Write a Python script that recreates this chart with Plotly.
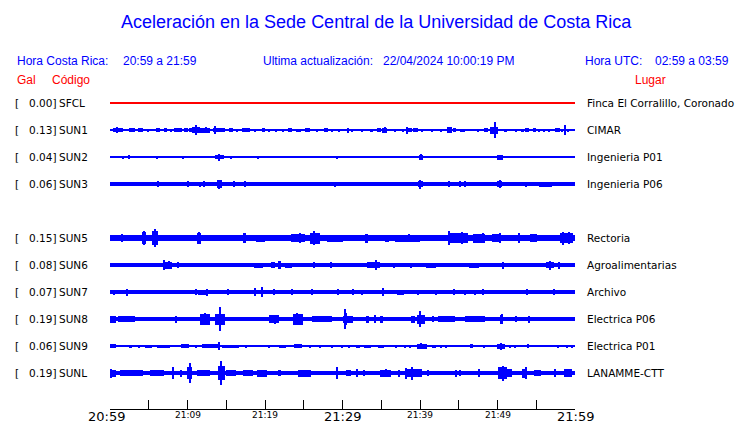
import plotly.graph_objects as go

# ---------------- data ----------------
codes = ["SFCL", "SUN1", "SUN2", "SUN3", "SUN5", "SUN6", "SUN7", "SUN8", "SUN9", "SUNL"]
gal_values = ["0.00", "0.13", "0.04", "0.06", "0.15", "0.08", "0.07", "0.19", "0.06", "0.19"]
places = ["Finca El Corralillo, Coronado", "CIMAR", "Ingenieria P01", "Ingenieria P06", "Rectoria",
          "Agroalimentarias", "Archivo", "Electrica P06", "Electrica P01", "LANAMME-CTT"]
row_slots = [0, 1, 2, 3, 5, 6, 7, 8, 9, 10]   # SUN4 row is empty

# noise-floor half amplitude (relative units) per station
base_amp = [0.5, 1.0, 0.7, 2.2, 2.6, 1.8, 1.7, 2.2, 0.8, 2.0]

# bursts: (start minute, end minute, half amplitude)
ev_sfcl = []
ev_sun1 = [(0.2,0.3,1.2),(0.4,1.7,2),(0.8,1.0,2.7),(2.5,3.2,2),(3.6,4.2,2),(4.9,5.0,1.5),(5.9,6.5,2),(7.0,7.3,2),
           (7.8,8.0,1.5),(8.3,9.3,2),(9.5,10.0,2),(10.2,10.8,2),(10.6,11.6,3),(11.0,11.2,5.2),(11.6,12.9,2.5),
           (12.3,12.4,3),(13.3,14.8,2),(13.5,13.7,3.7),(15.4,15.9,2),(16.4,16.5,1.5),(17.0,18.0,2),(18.6,18.9,1.5),
           (19.6,20.0,2),(20.4,20.6,1.5),(21.4,21.6,1.5),(22.3,22.5,1.5),(23.0,23.5,2),(24.0,24.6,1.5),(25.2,25.8,2),
           (26.6,26.8,1.5),(27.6,28.1,2),(28.6,28.8,1.5),(29.5,29.6,1.5),(30.7,30.9,2.5),(31.2,31.4,1.5),
           (32.5,32.6,1.5),(33.5,33.9,1.5),(34.4,35.0,2),(35.1,35.7,2.5),(35.4,35.5,3),(36.7,36.8,1.5),
           (37.8,37.9,1.5),(38.2,39.0,2),(38.3,38.4,3.5),(39.1,39.7,2),(40.2,40.3,1.5),(41.5,41.6,1.5),
           (42.6,42.7,1.5),(43.5,44.1,3),(44.3,44.6,2),(45.2,45.8,1.5),(47.4,47.5,1.5),(48.3,48.8,2),
           (49.0,50.1,3.5),(49.6,49.8,8),(50.9,51.2,1.5),(52.3,52.4,1.5),(53.0,53.4,1.5),(53.5,54.0,2),
           (54.6,55.0,2),(55.3,55.4,1.5),(55.9,56.0,1.5),(56.6,56.7,1.5),(57.4,58.0,2),(58.3,58.4,1.5),
           (58.6,58.8,5),(59.0,59.1,1.5)]
ev_sun2 = [(1.6,1.8,1.5),(2.4,2.6,2),(6.0,6.2,1.5),(9.4,9.6,1.5),(10.1,10.3,1.2),(11.7,11.9,1.2),(12.8,13.0,1.2),
           (13.5,14.7,2),(14.0,14.2,3.5),(15.6,15.8,1.5),(19.0,19.2,1.5),(29.2,29.4,1.5),(39.9,40.4,2.5),
           (40.0,40.2,3),(40.8,41.0,1.2),(49.9,50.7,2.5)]
ev_sun3 = [(6.1,6.3,2.8),(10.0,10.2,2.7),(11.5,11.7,2.5),(12.0,12.2,3),(13.8,14.4,4),(14.0,14.2,4.5),
           (15.9,16.1,3.2),(17.4,17.6,2.7),(29.0,29.2,2.5),(39.8,40.4,3),(39.9,40.1,4.5),(43.7,43.9,2.8),
           (45.1,45.3,2.8),(45.7,45.9,2.8),(49.9,50.6,3),(50.2,50.4,3.8),(53.6,53.8,2.5),(55.4,57.0,2.5)]
ev_sun5 = [(0.0,3.3,3.2),(1.5,1.7,3.8),(4.1,4.7,6),(4.3,4.4,7),(5.4,6.2,7),(5.7,5.9,9.3),(6.2,9.0,3.4),
           (11.2,11.8,5.5),(11.4,11.6,6),(13.0,17.0,3.4),(17.2,17.6,5),(18.8,20.0,3.5),(23.4,25.2,4),
           (24.5,24.7,5),(25.8,27.1,5.5),(26.2,26.4,7),(28.0,30.0,3.5),(30.0,32.5,3.4),(32.9,33.3,4.5),
           (35.5,36.0,3.5),(36.8,40.0,3.5),(38.5,38.7,4),(43.7,43.9,7.3),(43.9,46.2,5),(45.4,45.6,6),
           (46.8,48.4,4.5),(48.1,48.3,5),(49.3,50.5,4),(50.3,50.5,5),(52.7,52.9,5),(54.2,55.1,4),
           (58.0,59.7,5),(58.4,58.6,6.5),(59.1,59.3,6)]
ev_sun6 = [(0.0,3.3,2.0),(6.8,8.0,3.5),(6.9,7.1,4.7),(7.6,7.8,4.3),(8.7,8.9,3),(13.0,16.0,2),(18.6,19.7,2.5),
           (20.8,21.3,3),(21.8,22.0,4),(22.6,23.5,2.5),(26.2,26.4,3),(28.4,28.6,3),(33.2,33.5,3),
           (33.6,34.8,3),(34.2,34.4,5.3),(36.6,36.8,2.5),(38.8,39.0,2.5),(40.8,42.0,2.5),(46.3,47.6,2.5),
           (50.7,50.9,3.5),(56.3,57.3,3),(56.7,56.9,4.5),(57.9,58.1,3.5)]
ev_sun7 = [(0.0,4.6,2.2),(0.5,0.7,2.5),(2.1,2.3,3.5),(11.0,11.2,3),(11.4,12.7,2.5),(12.4,12.6,3.5),
           (15.1,15.3,3),(18.7,18.9,4),(19.6,19.8,5.2),(21.1,21.3,3),(23.4,23.6,3),(26.0,26.2,3),(29.4,29.6,3),
           (31.3,31.5,3),(32.4,32.6,2.5),(35.2,35.4,3.7),(37.0,37.9,2.5),(39.7,39.9,2.5),(42.0,42.2,2.5),
           (44.3,44.5,3),(45.7,45.9,2.5),(47.0,47.2,2.5),(48.1,48.3,3.3),(53.7,53.9,3),(57.2,57.4,3)]
ev_sun8 = [(0.0,0.8,3.5),(1.0,3.2,3),(8.5,8.7,3.5),(11.6,12.9,5.5),(12.2,12.4,6.3),(13.5,14.8,5.5),
           (14.1,14.3,11.7),(20.5,21.8,4),(21.2,21.4,4.5),(23.6,24.9,5.5),(24.1,24.3,6),(26.0,28.6,3),
           (30.2,30.4,10),(30.4,30.6,6),(30.0,31.3,3.5),(33.0,33.4,3.5),(34.1,34.3,4),(34.9,35.2,3.5),
           (38.9,39.4,3.5),(39.6,40.6,4.5),(39.9,40.1,8.3),(41.6,41.8,3),(42.3,44.5,3),(45.8,48.4,3),
           (50.3,50.7,4.5),(50.5,50.6,5),(52.3,52.5,3),(54.0,54.2,3.5)]
ev_sun9 = [(0.0,0.8,2),(2.5,2.9,1.5),(3.7,3.8,1.5),(4.5,5.4,1.5),(6.1,7.8,1.5),(9.2,10.2,1.8),(11.1,11.2,1.5),
           (11.9,14.1,2),(14.0,14.2,4),(14.4,16.6,1.5),(17.5,17.6,1.5),(20.5,20.6,1.5),(21.8,22.7,1.5),
           (23.8,24.8,2),(25.8,25.9,1.5),(27.1,27.2,1.5),(28.6,28.7,1.5),(29.9,30.0,1.5),(30.8,30.9,1.5),
           (31.8,32.3,1.5),(32.8,33.7,1.5),(34.6,35.4,1.5),(36.8,36.9,1.5),(38.0,38.1,1.5),(38.6,38.9,1.5),
           (39.6,40.9,2.5),(40.1,40.3,3),(41.5,42.0,1.5),(42.6,42.7,1.5),(43.3,43.4,1.5),(46.5,46.8,2),
           (48.2,48.3,1.5),(49.9,51.0,2.5),(50.4,50.6,3.5),(51.6,51.7,1.5),(52.2,52.3,1.5),(53.9,54.1,2),
           (57.8,57.9,1.5),(58.9,59.0,1.5),(59.6,59.7,1.5)]
ev_sunl = [(0.0,0.8,3.5),(0.1,0.3,4.5),(1.3,4.3,3),(5.2,7.0,3),(8.1,8.3,6),(9.1,9.3,3.5),(10.2,10.4,10.3),
           (9.9,10.6,6),(11.2,12.9,3),(13.9,14.8,7),(14.2,14.4,12),(15.0,16.3,3),(17.2,18.5,3),(19.0,20.3,3.5),
           (21.8,22.0,3),(24.2,25.9,3.5),(29.2,29.4,6),(30.5,31.1,3),(31.8,32.0,4),(32.7,32.9,3),
           (34.8,36.2,3.5),(35.6,35.8,4),(37.2,37.4,3.5),(38.1,38.3,5.5),(38.1,40.2,4),(38.9,39.1,6.5),
           (41.0,41.2,3),(44.6,44.8,3.5),(45.1,45.3,3),(47.6,47.8,4),(50.0,51.2,6),(50.7,50.9,7.5),
           (51.2,51.9,4),(53.2,53.8,4.5),(53.6,53.8,6),(54.7,55.6,3),(57.3,57.5,4),(58.6,59.6,4)]
events = [ev_sfcl, ev_sun1, ev_sun2, ev_sun3, ev_sun5, ev_sun6, ev_sun7, ev_sun8, ev_sun9, ev_sunl]
trace_colors = ["#ff0000"] + ["#0000ff"] * 9

tick_minutes = list(range(0, 61, 5))
tick_labels = {0: "20:59", 10: "21:09", 20: "21:19", 30: "21:29", 40: "21:39", 50: "21:49", 60: "21:59"}
big_labels = [0, 30, 60]

title_text = "Aceleración en la Sede Central de la Universidad de Costa Rica"

# ---------------- layout helpers ----------------
W, H = 740, 423
PL, PR, PT, PB = 110, 575, 90, 409   # plot area in pixels
ROW0, ROWSTEP = 103, 27


def px(x):
    return (x - PL) / (PR - PL)


def py(y):
    return (PB - y) / (PB - PT)


fig = go.Figure()

for i, slot in enumerate(row_slots):
    c = ROW0 + ROWSTEP * slot
    xs, ws, bs, hs = [30], [60], [c - base_amp[i]], [2 * base_amp[i]]
    for t0, t1, a in events[i]:
        xs.append((t0 + t1) / 2)
        ws.append(max(t1 - t0, 0.14))
        bs.append(c - a)
        hs.append(2 * a)
    fig.add_trace(go.Bar(x=xs, y=hs, base=bs, width=ws, marker=dict(color=trace_colors[i], line=dict(width=0)),
                         hoverinfo="skip", showlegend=False))

ann = []
blue, red = "#0000ff", "#ff0000"
hfont = "Liberation Sans, Arial, sans-serif"
dfont = "DejaVu Sans, sans-serif"


def add_text(text, x, y, size, color, family, anchor="left"):
    ann.append(dict(text=text, x=px(x), y=py(y), xref="paper", yref="paper", xanchor=anchor, yanchor="middle",
                    showarrow=False, font=dict(size=size, color=color, family=family)))


add_text(title_text, 376, 22, 18, blue, hfont, "center")
add_text("Hora Costa Rica:", 15, 61, 12, blue, hfont)
add_text("20:59 a 21:59", 121, 61, 12, blue, hfont)
add_text("Ultima actualización:", 261, 61, 12, blue, hfont)
add_text("22/04/2024 10:00:19 PM", 381, 61, 12, blue, hfont)
add_text("Hora UTC:", 583, 61, 12, blue, hfont)
add_text("02:59 a 03:59", 653, 61, 12, blue, hfont)
add_text("Gal", 15, 80, 12, red, hfont)
add_text("Código", 50, 80, 12, red, hfont)
add_text("Lugar", 633, 80, 12, red, hfont)

for i, slot in enumerate(row_slots):
    c = ROW0 + ROWSTEP * slot
    add_text("[", 13, c, 10.5, "black", dfont)
    add_text(gal_values[i] + "]", 27, c, 10.5, "black", dfont)
    add_text(codes[i], 57, c, 10.5, "black", dfont)
    add_text(places[i], 585, c, 10.5, "black", dfont)

for m, lab in tick_labels.items():
    big = m in big_labels
    ann.append(dict(text=lab, x=m, y=py(416 if big else 415), xref="x", yref="paper", xanchor="center",
                    yanchor="middle", xshift=-4 if m == 0 else 0, showarrow=False,
                    font=dict(size=13 if big else 9, color="black", family=dfont)))

fig.update_layout(
    width=W, height=H,
    margin=dict(l=PL, r=W - PR, t=PT, b=H - PB, pad=0),
    paper_bgcolor="white", plot_bgcolor="white",
    barmode="overlay", bargap=0,
    showlegend=False,
    annotations=ann,
    xaxis=dict(range=[0, 60], tickvals=tick_minutes, ticks="inside", ticklen=9, tickcolor="black",
               tickwidth=1, showticklabels=False, showgrid=False, zeroline=False,
               showline=True, linecolor="black", linewidth=1, fixedrange=True),
    yaxis=dict(range=[PB, PT], visible=False, showgrid=False, zeroline=False, fixedrange=True),
)

fig.write_html("out.html", config={"displayModeBar": False},
               post_script="document.body.style.margin='0';document.body.style.padding='0';")
